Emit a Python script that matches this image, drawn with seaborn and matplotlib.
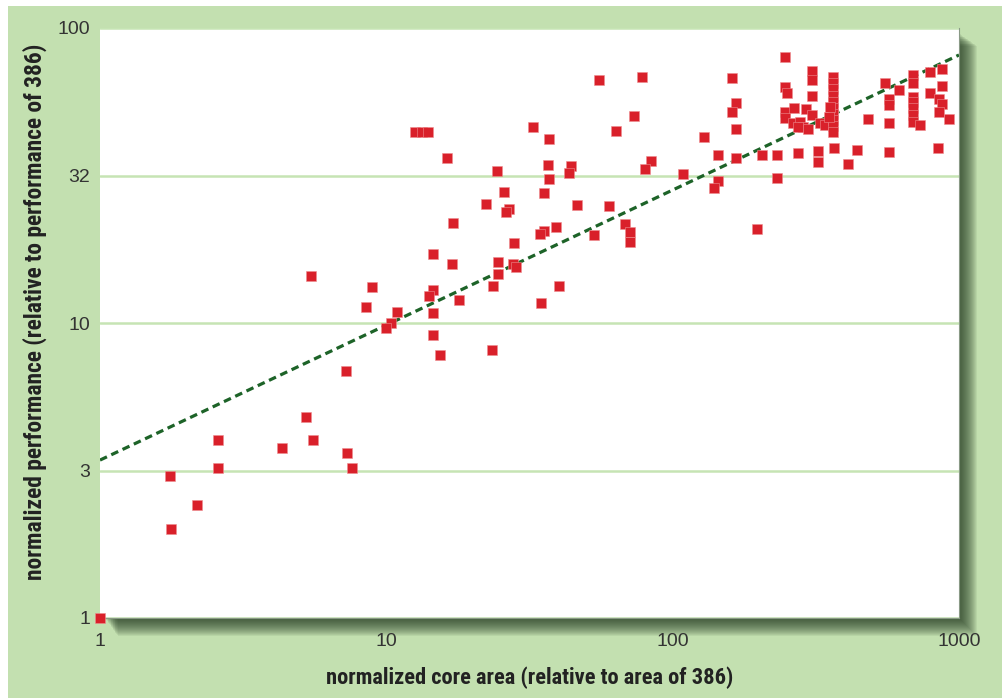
import numpy as np
import pandas as pd
import matplotlib
matplotlib.use("Agg")
import matplotlib.pyplot as plt
from matplotlib import font_manager as fm
import seaborn as sns
from matplotlib.patches import Rectangle

# ---- data ----
core_area = [
    1, 1.76, 1.77, 2.18, 2.58, 2.58, 4.31, 5.24, 5.56, 7.31, 7.6, 5.44, 7.21, 8.91, 8.49, 10.9, 10.4, 9.95,
    12.6, 13.3, 14.0, 16.3, 32.4, 37.0, 36.8, 44.0, 43.5, 37.0, 24.4, 25.8, 35.4, 22.3, 26.9, 26.2, 46.2,
    17.1, 39.2, 35.6, 34.4, 27.9, 14.6, 17.0, 24.5, 27.8, 28.3, 24.5, 23.5, 40.2, 14.6, 14.1, 17.9, 34.6,
    14.6, 14.6, 15.4, 23.3, 53.3,
    55.3, 78.0, 161.7, 73.3, 63.4, 166, 160.8, 166, 129, 144.5, 166, 84, 80.3, 108.9, 144.5, 139.8, 60.1,
    68.2, 71.0, 71.0, 196.5,
    247, 247, 250, 247, 247, 265.5, 306, 306, 306, 292.6, 306, 264, 278.6, 286, 297.8, 327.4, 340.6,
    364, 364, 364, 364, 364, 364, 364, 364, 364, 364, 354.5, 352,
    366, 323, 323, 275, 275, 230.7, 230.7, 204.6, 411, 439.5, 482.8, 552, 570, 570, 570, 570, 615,
    693, 693, 693, 693, 693, 693, 693, 731,
    792.6, 871, 871, 792.6, 853, 871, 853, 925, 847,
]
performance = [
    1, 3.02, 2.01, 2.41, 4.01, 3.22, 3.76, 4.81, 4.01, 3.62, 3.23, 14.4, 6.89, 13.2, 11.3, 10.9, 10.0, 9.64,
    44.5, 44.5, 44.5, 36.2, 46.3, 42.0, 34.3, 34.1, 32.2, 30.8, 32.8, 27.9, 27.6, 25.4, 24.3, 23.8, 25.1,
    21.8, 21.2, 20.5, 20.0, 18.7, 17.1, 15.9, 16.1, 15.8, 15.5, 14.7, 13.3, 13.3, 12.9, 12.3, 12.0, 11.7,
    10.8, 9.1, 7.79, 8.1, 19.8,
    66.6, 68.1, 67.5, 50.4, 44.8, 55.8, 52.0, 45.5, 42.6, 37.2, 36.2, 35.4, 33.2, 32.0, 30.4, 28.6, 25.0,
    21.6, 20.4, 18.8, 20.9,
    79.6, 63.2, 60.4, 52.0, 49.5, 53.7, 71.5, 66.6, 58.8, 53.0, 50.7, 47.5, 48.1, 46.3, 45.4, 47.5, 46.9,
    68.2, 65.1, 62.1, 58.8, 56.1, 53.6, 51.1, 48.8, 46.5, 44.4, 54.1, 50.0,
    39.1, 38.4, 35.0, 37.6, 46.1, 37.1, 30.9, 37.1, 34.6, 38.6, 49.0, 65.3, 57.3, 54.8, 47.8, 38.1, 61.6,
    69.3, 65.1, 58.3, 56.1, 53.6, 50.7, 48.0, 46.9,
    70.8, 72.6, 63.6, 60.0, 57.3, 55.2, 52.0, 49.1, 39.1,
]
trend_x = [1, 1000]
trend_y = [3.43, 81.0]

x_ticks = [1, 10, 100, 1000]
x_tick_labels = ["1", "10", "100", "1000"]
y_ticks = [1, 10 ** 0.5, 10, 10 ** 1.5, 100]
y_tick_labels = ["1", "3", "10", "32", "100"]

xlabel = "normalized core area (relative to area of 386)"
ylabel = "normalized performance (relative to performance of 386)"

df = pd.DataFrame({"area": core_area, "perf": performance})
trend = pd.DataFrame({"x": trend_x, "y": trend_y})

# ---- style ----
sns.set_style("white")
BG = "#c3e0b0"
GRID = "#c6e4b4"
RED = "#d9202a"
DGREEN = "#1d6328"

W, H = 1003, 698
fig = plt.figure(figsize=(W / 100, H / 100), dpi=100, facecolor="white")

# green backdrop
fig.patches.append(Rectangle((8 / W, 0), 1 - 8 / W, (H - 6) / H, transform=fig.transFigure,
                             facecolor=BG, edgecolor="none", zorder=-10))

# axes geometry (pixels)
x0, x1 = 100, 959
ytop, ybot = 28, 618
ax = fig.add_axes([x0 / W, (H - ybot) / H, (x1 - x0) / W, (ybot - ytop) / H])

# soft drop shadow, right and bottom only
N = 19
for r in range(N):
    a = 5 + 0.7 * r
    left, right = x0 + a, x1 + r
    top, bottom = ytop + a, ybot + r
    fig.patches.append(Rectangle((left / W, (H - bottom) / H), (right - left) / W, (bottom - top) / H,
                                 transform=fig.transFigure, facecolor="#22361e",
                                 edgecolor="none", alpha=0.072, zorder=-5))

ax.set_facecolor("white")
ax.set_xscale("log")
ax.set_yscale("log")
ax.set_xlim(1, 1000)
ax.set_ylim(1, 100)

ax.set_yticks(y_ticks)
ax.set_yticklabels(y_tick_labels)
ax.yaxis.set_minor_locator(matplotlib.ticker.NullLocator())
ax.yaxis.grid(True, color=GRID, linewidth=1.8, zorder=0)
ax.xaxis.grid(False)
ax.set_axisbelow(True)

sns.lineplot(data=trend, x="x", y="y", ax=ax, color=DGREEN, linewidth=2.3,
             linestyle=(0, (2.4, 1.5)), zorder=3)
sns.scatterplot(data=df, x="area", y="perf", ax=ax, marker="s", s=50, color=RED,
                edgecolor="#ee8c8f", linewidth=0.4, zorder=4)
for coll in ax.collections:
    coll.set_clip_on(False)

ax.set_xticks(x_ticks)
ax.set_xticklabels(x_tick_labels)
ax.set_xticks([10, 100], minor=True)
ax.tick_params(axis="x", which="major", length=0, pad=11, labelsize=14, labelcolor="#333333")
ax.tick_params(axis="x", which="minor", direction="in", length=12, width=1.3, color="#222222")
ax.tick_params(axis="y", which="both", length=0, pad=7, labelsize=14, labelcolor="#333333")
for lab in ax.get_xticklabels() + ax.get_yticklabels():
    lab.set_family(["Liberation Sans", "DejaVu Sans"])

for side in ["top", "left"]:
    ax.spines[side].set_visible(False)
for side in ["bottom", "right"]:
    ax.spines[side].set_color("#8a9a86")
    ax.spines[side].set_linewidth(0.8)

# pick a condensed bold face if one is installed
installed = {f.name for f in fm.fontManager.ttflist}
cands = ["Liberation Sans Narrow", "DejaVu Sans Condensed", "Roboto Condensed",
         "Open Sans Condensed", "Noto Sans Condensed"]
fam = [c for c in cands if c in installed] + ["DejaVu Sans"]

lab_font = dict(family=fam, weight="bold", stretch="condensed", size=14, color="#222222")
ax.set_xlabel(xlabel, **lab_font)
ax.set_ylabel(ylabel, **lab_font)
ax.xaxis.label.set_va("center")
ax.yaxis.label.set_va("center")
ax.xaxis.set_label_coords(0.5, (ybot - 678) / (ybot - ytop))
ax.yaxis.set_label_coords((35 - x0) / (x1 - x0), (ybot - 312) / (ybot - ytop))

# fit label sizes to the reference text extents
fig.canvas.draw()
rend = fig.canvas.get_renderer()
xw = ax.xaxis.label.get_window_extent(rend).width
ax.xaxis.label.set_fontsize(min(17, 14 * 410 / xw))
yh = ax.yaxis.label.get_window_extent(rend).height
ax.yaxis.label.set_fontsize(min(17, 14 * 540 / yh))

fig.savefig("out.png", dpi=100, facecolor="white")
